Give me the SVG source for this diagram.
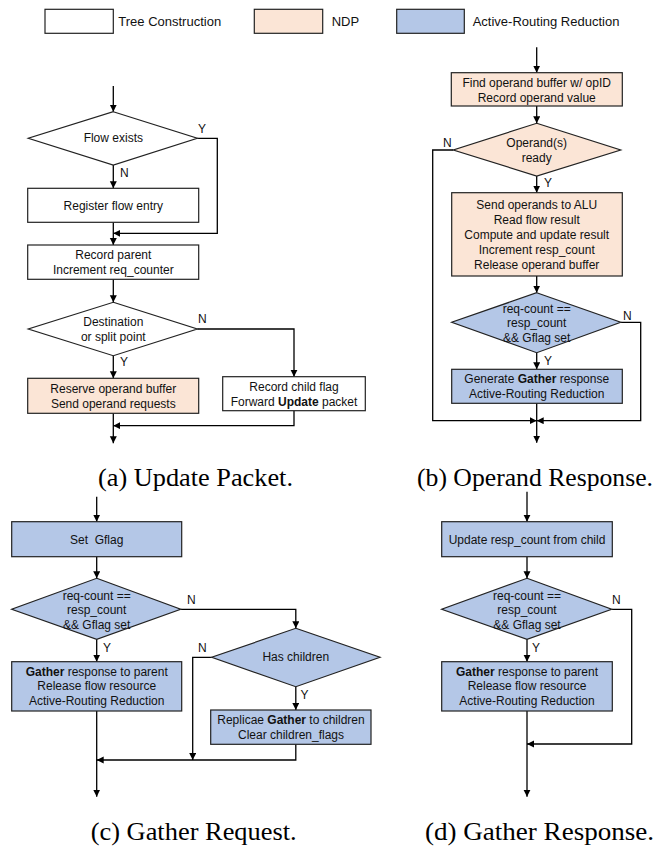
<svg xmlns="http://www.w3.org/2000/svg" width="655" height="846" viewBox="0 0 655 846">
<style>
.t{font-family:"Liberation Sans",Arial,sans-serif;font-size:12px;fill:#111;text-anchor:middle;dominant-baseline:central}
.lbl{font-family:"Liberation Sans",Arial,sans-serif;font-size:12px;fill:#111;dominant-baseline:central}
.leg{font-family:"Liberation Sans",Arial,sans-serif;font-size:13px;fill:#111;dominant-baseline:central}
.cap{font-family:"Liberation Serif","Times New Roman",serif;font-size:25.5px;fill:#000}
.w{fill:#fff;stroke:#222;stroke-width:1.2}
.o{fill:#fbe5d6;stroke:#222;stroke-width:1.2}
.b{fill:#b4c7e7;stroke:#222;stroke-width:1.2}
.c{fill:none;stroke:#000;stroke-width:1.3}
</style>
<defs>
<marker id="ah" markerUnits="userSpaceOnUse" markerWidth="8" markerHeight="8" refX="7" refY="3.5" orient="auto">
<path d="M0,0 L7,3.5 L0,7 z" fill="#000"/>
</marker>
</defs>

<g id="legend">
<rect class="w" x="45" y="9.3" width="68.3" height="24"/>
<text class="leg" x="118.3" y="21">Tree Construction</text>
<rect class="o" x="254.3" y="9.3" width="68.4" height="24"/>
<text class="leg" x="331.7" y="21">NDP</text>
<rect class="b" x="396.7" y="9.3" width="67.6" height="24"/>
<text class="leg" x="472.7" y="21">Active-Routing Reduction</text>
</g>

<g id="connectors">
<!-- panel a -->
<line class="c" x1="113.3" y1="86" x2="113.3" y2="111.7" marker-end="url(#ah)"/>
<polyline class="c" points="197.3,138.3 217.3,138.3 217.3,233.3 113.3,233.3" marker-end="url(#ah)"/>
<line class="c" x1="113.3" y1="165" x2="113.3" y2="188.3" marker-end="url(#ah)"/>
<line class="c" x1="113.3" y1="222.3" x2="113.3" y2="245" marker-end="url(#ah)"/>
<line class="c" x1="113.3" y1="279.3" x2="113.3" y2="302.3" marker-end="url(#ah)"/>
<polyline class="c" points="197.3,329 294,329 294,376.7" marker-end="url(#ah)"/>
<line class="c" x1="113.3" y1="355.7" x2="113.3" y2="378.3" marker-end="url(#ah)"/>
<polyline class="c" points="294,410.7 294,425.7 113.3,425.7" marker-end="url(#ah)"/>
<line class="c" x1="113.3" y1="413.3" x2="113.3" y2="443.3" marker-end="url(#ah)"/>
<!-- panel b -->
<line class="c" x1="536.7" y1="47.3" x2="536.7" y2="72.7" marker-end="url(#ah)"/>
<line class="c" x1="536.7" y1="106" x2="536.7" y2="123.3" marker-end="url(#ah)"/>
<polyline class="c" points="453.3,150 432.7,150 432.7,420.7 536.7,420.7" marker-end="url(#ah)"/>
<line class="c" x1="536.7" y1="176" x2="536.7" y2="192.7" marker-end="url(#ah)"/>
<line class="c" x1="536.7" y1="276" x2="536.7" y2="292.7" marker-end="url(#ah)"/>
<polyline class="c" points="620.7,322.3 640.7,322.3 640.7,420.7 536.7,420.7" marker-end="url(#ah)"/>
<line class="c" x1="536.7" y1="352.7" x2="536.7" y2="369.3" marker-end="url(#ah)"/>
<line class="c" x1="536.7" y1="403.3" x2="536.7" y2="442.7" marker-end="url(#ah)"/>
<!-- panel c -->
<line class="c" x1="96.7" y1="496.7" x2="96.7" y2="521.7" marker-end="url(#ah)"/>
<line class="c" x1="96.7" y1="556.7" x2="96.7" y2="578.3" marker-end="url(#ah)"/>
<polyline class="c" points="180.7,609.3 295.8,609.3 295.8,628.3" marker-end="url(#ah)"/>
<line class="c" x1="96.7" y1="639.3" x2="96.7" y2="661.7" marker-end="url(#ah)"/>
<polyline class="c" points="211.7,657.3 192.7,657.3 192.7,760" marker-end="url(#ah)"/>
<line class="c" x1="295.8" y1="686.7" x2="295.8" y2="710" marker-end="url(#ah)"/>
<polyline class="c" points="295.8,744.3 295.8,760 96.7,760" marker-end="url(#ah)"/>
<line class="c" x1="96.7" y1="711" x2="96.7" y2="796.7" marker-end="url(#ah)"/>
<!-- panel d -->
<line class="c" x1="527" y1="491.7" x2="527" y2="521.7" marker-end="url(#ah)"/>
<line class="c" x1="527" y1="556.7" x2="527" y2="578.3" marker-end="url(#ah)"/>
<polyline class="c" points="611.7,609.3 631.7,609.3 631.7,744 527,744" marker-end="url(#ah)"/>
<line class="c" x1="527" y1="639.3" x2="527" y2="661.7" marker-end="url(#ah)"/>
<line class="c" x1="527" y1="711" x2="527" y2="796.7" marker-end="url(#ah)"/>
</g>

<g id="edge-labels">
<text class="lbl" x="198" y="129">Y</text>
<text class="lbl" x="120" y="173">N</text>
<text class="lbl" x="198" y="319">N</text>
<text class="lbl" x="120" y="362">Y</text>
<text class="lbl" x="443" y="142.7">N</text>
<text class="lbl" x="544" y="183">Y</text>
<text class="lbl" x="623" y="315.7">N</text>
<text class="lbl" x="544" y="361">Y</text>
<text class="lbl" x="187" y="600">N</text>
<text class="lbl" x="103" y="648.3">Y</text>
<text class="lbl" x="198" y="648.3">N</text>
<text class="lbl" x="300.5" y="695">Y</text>
<text class="lbl" x="612" y="600">N</text>
<text class="lbl" x="532" y="648">Y</text>
</g>

<!-- panel a nodes -->
<g id="a-flow-exists">
<polygon class="w" points="113.3,111.7 197.3,138.3 113.3,165 28.3,138.3"/>
<text class="t" x="113.3" y="138.3">Flow exists</text>
</g>
<g id="a-register">
<rect class="w" x="27.7" y="188.3" width="171" height="34"/>
<text class="t" x="113.3" y="205.5">Register flow entry</text>
</g>
<g id="a-record-parent">
<rect class="w" x="27.7" y="245" width="171" height="34.3"/>
<text class="t" x="113.3" y="254.8">Record parent</text>
<text class="t" x="113.3" y="269.8">Increment req_counter</text>
</g>
<g id="a-destination">
<polygon class="w" points="113.3,302.3 197.3,329 113.3,355.7 28.3,329"/>
<text class="t" x="113.3" y="322">Destination</text>
<text class="t" x="113.3" y="337">or split point</text>
</g>
<g id="a-reserve">
<rect class="o" x="27.7" y="378.3" width="171" height="35"/>
<text class="t" x="113.3" y="388.8">Reserve operand buffer</text>
<text class="t" x="113.3" y="403.8">Send operand requests</text>
</g>
<g id="a-record-child">
<rect class="w" x="222.7" y="376.7" width="142.6" height="34"/>
<text class="t" x="294" y="386.8">Record child flag</text>
<text class="t" x="294" y="401.8">Forward <tspan font-weight="bold">Update</tspan> packet</text>
</g>
<text class="cap" x="98" y="486" textLength="195" lengthAdjust="spacingAndGlyphs">(a) Update Packet.</text>

<!-- panel b nodes -->
<g id="b-find">
<rect class="o" x="451.3" y="72.7" width="171" height="33.3"/>
<text class="t" x="536.7" y="82.7">Find operand buffer w/ opID</text>
<text class="t" x="536.7" y="97.7">Record operand value</text>
</g>
<g id="b-ready">
<polygon class="o" points="536.7,123.3 620.7,150 536.7,176 453.3,150"/>
<text class="t" x="536.7" y="143">Operand(s)</text>
<text class="t" x="536.7" y="158">ready</text>
</g>
<g id="b-send">
<rect class="o" x="451.7" y="192.7" width="170.6" height="83.3"/>
<text class="t" x="536.7" y="204.7">Send operands to ALU</text>
<text class="t" x="536.7" y="219.7">Read flow result</text>
<text class="t" x="536.7" y="234.7">Compute and update result</text>
<text class="t" x="536.7" y="249.7">Increment resp_count</text>
<text class="t" x="536.7" y="264.7">Release operand buffer</text>
</g>
<g id="b-check">
<polygon class="b" points="536.7,292.7 620.7,322.3 536.7,352.7 451.7,322.3"/>
<text class="t" x="536.7" y="308.5">req-count ==</text>
<text class="t" x="536.7" y="323">resp_count</text>
<text class="t" x="536.7" y="337.5">&amp;&amp; Gflag set</text>
</g>
<g id="b-generate">
<rect class="b" x="451.7" y="369.3" width="170.6" height="34"/>
<text class="t" x="536.7" y="379">Generate <tspan font-weight="bold">Gather</tspan> response</text>
<text class="t" x="536.7" y="394">Active-Routing Reduction</text>
</g>
<text class="cap" x="417" y="486" textLength="236" lengthAdjust="spacingAndGlyphs">(b) Operand Response.</text>

<!-- panel c nodes -->
<g id="c-set">
<rect class="b" x="11.7" y="521.7" width="170" height="35"/>
<text class="t" x="96.7" y="539.5" xml:space="preserve">Set  Gflag</text>
</g>
<g id="c-check">
<polygon class="b" points="96.7,578.3 180.7,609.3 96.7,639.3 11.7,609.3"/>
<text class="t" x="96.7" y="595.5">req-count ==</text>
<text class="t" x="96.7" y="610">resp_count</text>
<text class="t" x="96.7" y="624.5">&amp;&amp; Gflag set</text>
</g>
<g id="c-gather">
<rect class="b" x="11.7" y="661.7" width="170" height="49.3"/>
<text class="t" x="96.7" y="671.5"><tspan font-weight="bold">Gather</tspan> response to parent</text>
<text class="t" x="96.7" y="686.3">Release flow resource</text>
<text class="t" x="96.7" y="701.3">Active-Routing Reduction</text>
</g>
<g id="c-children">
<polygon class="b" points="295.8,628.3 380,657.3 295.8,686.7 211.7,657.3"/>
<text class="t" x="295.8" y="657.3">Has children</text>
</g>
<g id="c-replicate">
<rect class="b" x="210.7" y="710" width="160.3" height="34.3"/>
<text class="t" x="291" y="720.3">Replicae <tspan font-weight="bold">Gather</tspan> to children</text>
<text class="t" x="291" y="735.3">Clear children_flags</text>
</g>
<text class="cap" x="90.7" y="840" textLength="206" lengthAdjust="spacingAndGlyphs">(c) Gather Request.</text>

<!-- panel d nodes -->
<g id="d-update">
<rect class="b" x="441.7" y="521.7" width="170.6" height="35"/>
<text class="t" x="527" y="539.5">Update resp_count from child</text>
</g>
<g id="d-check">
<polygon class="b" points="527,578.3 611.7,609.3 527,639.3 441.7,609.3"/>
<text class="t" x="527" y="595.5">req-count ==</text>
<text class="t" x="527" y="610">resp_count</text>
<text class="t" x="527" y="624.5">&amp;&amp; Gflag set</text>
</g>
<g id="d-gather">
<rect class="b" x="441.7" y="661.7" width="170.6" height="49.3"/>
<text class="t" x="527" y="671.5"><tspan font-weight="bold">Gather</tspan> response to parent</text>
<text class="t" x="527" y="686.3">Release flow resource</text>
<text class="t" x="527" y="701.3">Active-Routing Reduction</text>
</g>
<text class="cap" x="425" y="840" textLength="229" lengthAdjust="spacingAndGlyphs">(d) Gather Response.</text>
</svg>
